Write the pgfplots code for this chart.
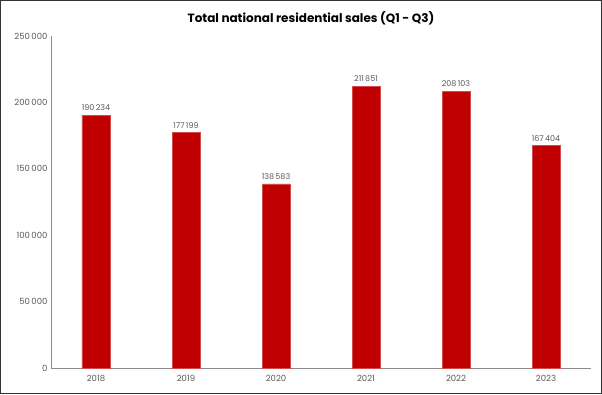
\documentclass[border=0pt]{standalone}
\usepackage{pgfplots}
\pgfplotsset{compat=1.18}
\usepackage{fontspec}
\setmainfont{Poppins}
\definecolor{barred}{HTML}{C00000}
\definecolor{txtgray}{HTML}{595959}
\definecolor{axgray}{HTML}{8C8C8C}
\begin{document}
\begin{tikzpicture}
\useasboundingbox (0,0) rectangle (602pt,394pt);
\draw[line width=1.4pt, black!80] (0.7pt,0.7pt) rectangle (601.3pt,393.3pt);
\node[font=\fontsize{12}{14}\selectfont\bfseries, text=black] at (311pt,376pt) {Total national residential sales (Q1 - Q3)};
\begin{axis}[
  at={(51pt,26pt)}, anchor=south west,
  scale only axis, width=540pt, height=332pt,
  xmin=-0.5, xmax=5.5, ymin=0, ymax=250000,
  xtick={0,1,2,3,4,5},
  xticklabels={2018,2019,2020,2021,2022,2023},
  ytick={0,50000,100000,150000,200000,250000},
  scaled y ticks=false,
  /pgf/number format/assume math mode=true,
  yticklabel style={/pgf/number format/.cd, fixed, 1000 sep={\,}},
  ticklabel style={font=\fontsize{8.5}{10}\selectfont, text=txtgray},
  xticklabel style={yshift=-4pt},
  major tick length=0pt,
  axis x line*=bottom, axis y line*=left,
  axis line style={axgray, line width=0.8pt},
  x axis line style={-}, y axis line style={-},
  ybar, bar width=28pt,
  nodes near coords,
  point meta=explicit symbolic,
  every node near coord/.append style={font=\fontsize{8}{9.5}\selectfont, text=txtgray, yshift=1pt},
]
\addplot[fill=barred, draw=barred!70!white, line width=0.4pt] table[meta=lab] {
x y lab
0 190234 {190\,234}
1 177199 {177\,199}
2 138583 {138\,583}
3 211851 {211\,851}
4 208103 {208\,103}
5 167404 {167\,404}
};
\end{axis}
\end{tikzpicture}
\end{document}
